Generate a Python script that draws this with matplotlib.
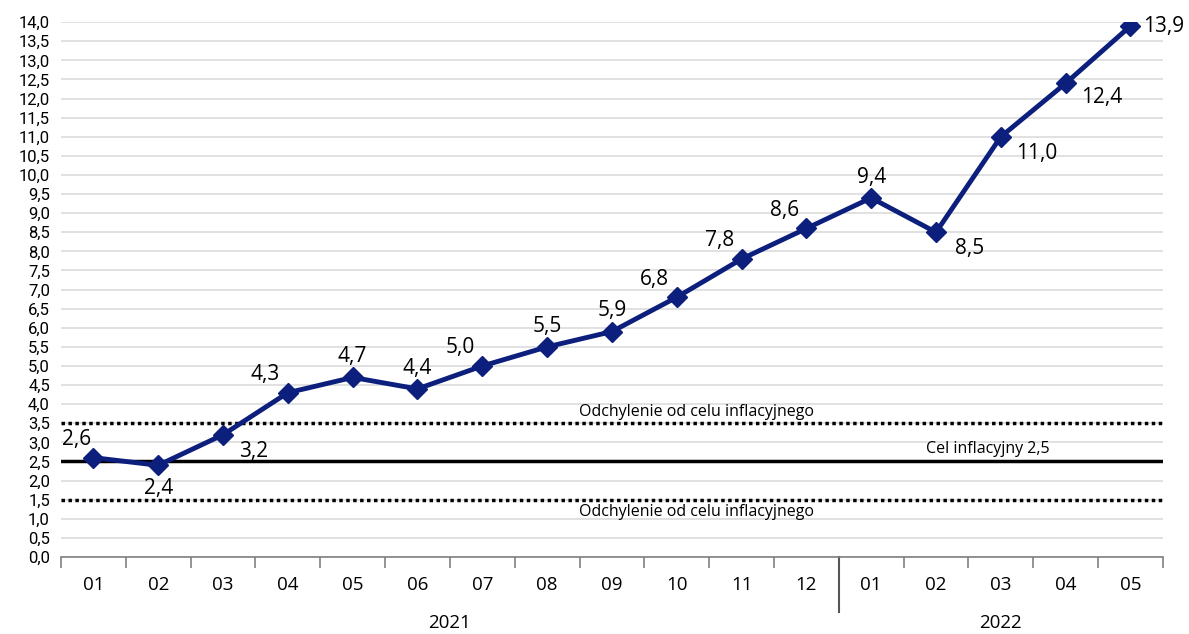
import matplotlib
matplotlib.use('Agg')
import matplotlib.pyplot as plt
import numpy as np

# data
months = ['01', '02', '03', '04', '05', '06', '07', '08', '09', '10', '11', '12',
          '01', '02', '03', '04', '05']
years = ['2021', '2022']
infl = [2.6, 2.4, 3.2, 4.3, 4.7, 4.4, 5.0, 5.5, 5.9, 6.8, 7.8, 8.6, 9.4, 8.5, 11.0, 12.4, 13.9]
target = 2.5
band_lo = 1.5
band_hi = 3.5

# label offsets (pixels) for each point
offs = [(-12, 13), (0, -17), (22, -12), (-16, 13), (0, 15), (0, 15), (-16, 13), (0, 15),
        (0, 15), (-16, 13), (-16, 13), (-16, 13), (0, 15), (24, -12), (26, -12), (26, -10), (24, 0)]

plt.rcParams['font.family'] = ['Open Sans', 'DejaVu Sans']
navy = '#0c1f7c'

fig = plt.figure(figsize=(11.89, 6.34), dpi=100)
ax = fig.add_axes([0.0513, 0.1215, 0.9267, 0.8435])

x = np.arange(len(months))
ax.set_xlim(-0.5, len(months) - 0.5)
ax.set_ylim(0, 14)
ax.set_yticks(np.arange(0, 14.01, 0.5))
ax.set_yticklabels([('%.1f' % v).replace('.', ',') for v in np.arange(0, 14.01, 0.5)],
                   fontsize=12, family=['Roboto', 'DejaVu Sans'])
ax.yaxis.grid(True, color='#dcdcdc', lw=1.2)
ax.set_axisbelow(True)
ax.tick_params(axis='y', length=0, pad=8)
for s in ['left', 'right', 'top']:
    ax.spines[s].set_visible(False)
ax.spines['bottom'].set_color('#808080')
ax.spines['bottom'].set_linewidth(1.2)

# boundary ticks
ax.set_xticks(np.arange(-0.5, len(months), 1))
ax.set_xticklabels([])
ax.tick_params(axis='x', length=8, color='#808080', width=1.2)
ax.set_xticks(x, minor=True)
ax.set_xticklabels(months, minor=True, fontsize=13.5)
ax.tick_params(axis='x', which='minor', length=0, pad=14)

# separator between years
ax.plot([11.5, 11.5], [0, -1.45], color='#555555', lw=1.5, clip_on=False)
ax.text(5.5, -1.72, years[0], ha='center', va='center', fontsize=13.5)
ax.text(14.0, -1.72, years[1], ha='center', va='center', fontsize=13.5)

# target lines
ax.axhline(target, color='black', lw=2.5)
ax.axhline(band_hi, color='black', lw=2.5, ls=(0, (1, 1)))
ax.axhline(band_lo, color='black', lw=2.5, ls=(0, (1, 1)))
ax.text(9.3, band_hi + 0.08, 'Odchylenie od celu inflacyjnego', ha='center', va='bottom', fontsize=11.5)
ax.text(9.3, band_lo - 0.12, 'Odchylenie od celu inflacyjnego', ha='center', va='top', fontsize=11.5)
ax.text(13.8, target + 0.12, 'Cel inflacyjny 2,5', ha='center', va='bottom', fontsize=11.5)

ax.plot(x, infl, color=navy, lw=3.5, marker='D', ms=10, zorder=5)
for xi, v, (dx, dy) in zip(x, infl, offs):
    ax.annotate(('%.1f' % v).replace('.', ','), (xi, v), xytext=(dx, dy),
                textcoords='offset points', ha='center', va='center', fontsize=15, zorder=6)

fig.savefig('out.png', dpi=100)
